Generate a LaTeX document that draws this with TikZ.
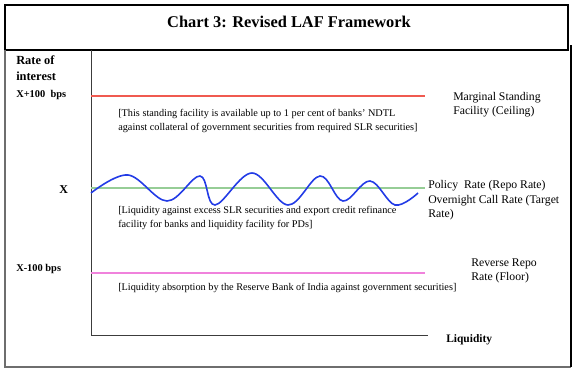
\documentclass[tikz,border=0pt]{standalone}
\usepackage{fontspec}
\setmainfont{Liberation Serif}
\usetikzlibrary{positioning}
\definecolor{red1}{RGB}{240, 90, 80}
\definecolor{green1}{RGB}{150, 205, 150}
\definecolor{pink1}{RGB}{240, 130, 220}
\definecolor{blue1}{RGB}{35, 60, 230}
\definecolor{gray1}{RGB}{110, 110, 110}
\definecolor{axis1}{RGB}{60, 60, 60}

\begin{document}
\begin{tikzpicture}[
    x=0.75pt, y=-0.75pt,
    frame/.style={draw=#1, line width=0.8pt},
    level/.style={line width=1.1pt, draw=#1},
    wave/.style={line width=1.2pt, draw=blue1},
    note/.style={font=\fontsize{7.7}{11.2}\selectfont, align=left, anchor=base west, inner sep=0pt},
    ratelbl/.style={font=\fontsize{8.8}{11}\selectfont, align=left, anchor=base west, inner sep=0pt},
    axislbl/.style={font=\bfseries\fontsize{#1}{12}\selectfont, align=left, anchor=base west, inner sep=0pt},
  ]
  \useasboundingbox (0, 0) rectangle (576, 374);

  % Frame and title
  \draw[frame=black] (5, 5) rectangle (568, 50);
  \draw[frame=gray1, line width=1.4pt] (5, 50) -- (5, 367) -- (571, 367);
  \draw[frame=black] (571, 367) -- (571, 45);
  \node[font=\bfseries\fontsize{12.3}{14}\selectfont, anchor=base, inner sep=0pt] (title) at (289, 28) {Chart 3: Revised LAF Framework};

  % Axes
  \coordinate (top) at (91, 50);
  \coordinate (o) at (91, 335);
  \coordinate (xend) at (428, 335);
  \draw[draw=axis1, line width=0.7pt] (top) -- (o) -- (xend);

  % Rates
  \coordinate (msf) at (91, 96);
  \coordinate (repo) at (91, 188);
  \coordinate (rrr) at (91, 273);
  \draw[level=red1] (msf) -- +(334, 0);
  \draw[level=green1] (repo) -- +(334, 0);
  \draw[level=pink1] (rrr) -- +(334, 0);

  % Call rate
  \draw[wave] plot[smooth, tension=0.6] coordinates {(91, 193) (128, 175) (167, 201) (200, 176) (215, 205) (252, 173) (288, 205) (320, 176) (343, 201) (370, 181) (395, 205) (418, 193)};

  % Left labels
  \node[axislbl=9.3] (rate) at (16, 65) {Rate of};
  \node[axislbl=9.3] (interest) at (16, 81) {interest};
  \node[axislbl=7.8] (upper) at (16, 98) {X+100~~bps};
  \node[axislbl=9] (mid) at (59, 194) {X};
  \node[axislbl=7.8] (lower) at (16, 272) {X-100 bps};
  \node[axislbl=8.6] (liq) at (446, 343) {Liquidity};

  % Right labels (base = last line)
  \node[ratelbl] (msflbl) at (453, 115) {Marginal Standing\\Facility (Ceiling)};
  \node[ratelbl] (repolbl) at (428, 218) {Policy~~Rate (Repo Rate)\\Overnight Call Rate (Target\\Rate)};
  \node[ratelbl] (rrrlbl) at (471, 281) {Reverse Repo\\Rate (Floor)};

  % Notes
  \node[note] (msfnote) at (118, 131) {[This standing facility is available up to 1 per cent of banks’ NDTL\\against collateral of government securities from required SLR securities]};
  \node[note] (reponote) at (118, 228) {[Liquidity against excess SLR securities and export credit refinance\\facility for banks and liquidity facility for PDs]};
  \node[note] (rrrnote) at (118, 291) {[Liquidity absorption by the Reserve Bank of India against government securities]};

\end{tikzpicture}
\end{document}
